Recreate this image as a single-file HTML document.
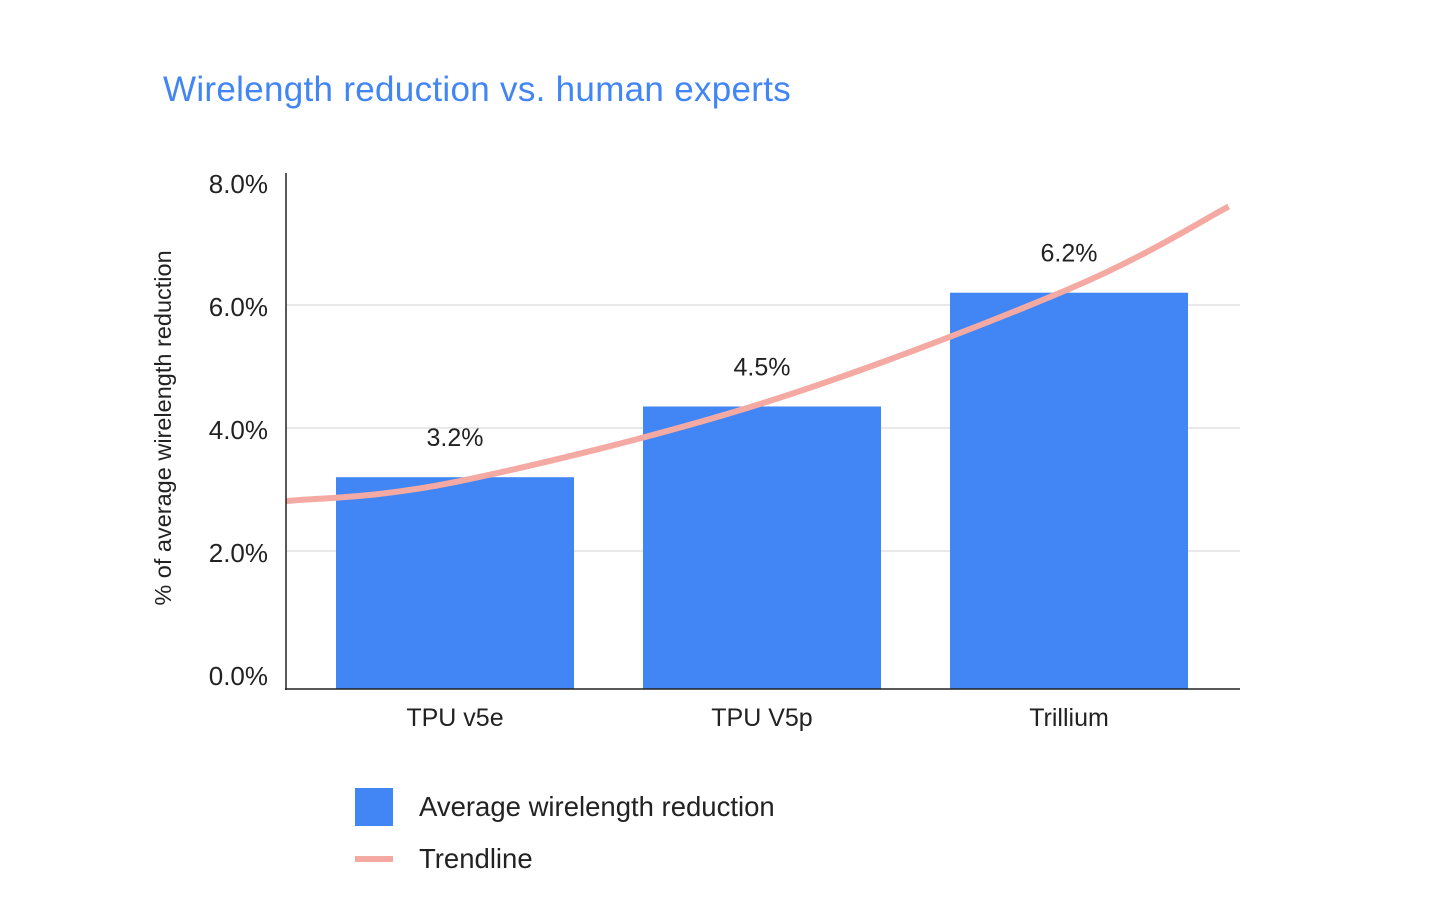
<!DOCTYPE html>
<html><head><meta charset="utf-8"><style>
html,body{margin:0;padding:0;background:#fff;}
svg{display:block;font-family:"Liberation Sans",sans-serif;}
</style></head><body>
<svg id="chart" width="1442" height="920" viewBox="0 0 1442 920">
<text x="163" y="101" font-size="35" letter-spacing="0.3" fill="#4285f4">Wirelength reduction vs. human experts</text>
<text transform="translate(171,428) rotate(-90)" text-anchor="middle" font-size="23.5" fill="#222">% of average wirelength reduction</text>
<g id="grid"></g><g id="bars"></g><g id="trend"></g><g id="labels"></g>
<line x1="286" y1="173" x2="286" y2="690" stroke="#222" stroke-width="1.5"/>
<line x1="285" y1="689" x2="1240" y2="689" stroke="#222" stroke-width="1.5"/>
<g>
<rect x="355" y="788" width="38" height="38" fill="#4285f4"/>
<text x="419" y="816" font-size="27.5" fill="#222">Average wirelength reduction</text>
<rect x="355" y="856" width="38" height="6" fill="#f4aaa2"/>
<text x="419" y="868" font-size="27.5" fill="#222">Trendline</text>
</g>
</svg>
<script>
const categories = ["TPU v5e", "TPU V5p", "Trillium"];
const barValues = [3.2, 4.35, 6.2];
const valueLabels = ["3.2%", "4.5%", "6.2%"];
const yTicks = [0, 2, 4, 6, 8];
const yTickLabels = ["0.0%", "2.0%", "4.0%", "6.0%", "8.0%"];
const trendIdx = [-0.55, 0, 1, 2, 2.52];
const trendValues = [2.81, 3.12, 4.4, 6.26, 7.6];

const NS = "http://www.w3.org/2000/svg";
const yScale = v => 674 - v * 61.5;
const xScale = i => 455 + i * 307;
function mk(tag, attrs, parent) {
  const e = document.createElementNS(NS, tag);
  for (const k in attrs) e.setAttribute(k, attrs[k]);
  parent.appendChild(e);
  return e;
}
const grid = document.getElementById("grid");
yTicks.forEach((t, i) => {
  if (t > 0 && t < 8) {
    const l = mk("line", {x1: 286, x2: 1240, y1: yScale(t), y2: yScale(t), stroke: "#dcdcdc", "stroke-width": 1.2}, grid);
    
    
  }
  const tx = mk("text", {x: 268, y: yScale(t) + 11, "text-anchor": "end", "font-size": 26, fill: "#222"}, grid);
  tx.textContent = yTickLabels[i];
  
  
});
const bars = document.getElementById("bars"), labels = document.getElementById("labels");
categories.forEach((c, i) => {
  const cx = xScale(i), top = yScale(barValues[i]);
  const r = mk("rect", {x: cx - 119, y: top, width: 238, height: 689 - top, fill: "#4285f4"}, bars);
  
  
  const v = mk("text", {x: cx, y: top - 31, "text-anchor": "middle", "font-size": 25, fill: "#222"}, labels);
  v.textContent = valueLabels[i];
  
  
  const t = mk("text", {x: cx, y: 726, "text-anchor": "middle", "font-size": 25, fill: "#222"}, labels);
  t.textContent = c;
  
  
});
const pts = trendIdx.map((t, i) => [xScale(t), yScale(trendValues[i])]);
let d = "M" + pts[0][0] + "," + pts[0][1];
for (let i = 0; i < pts.length - 1; i++) {
  const p0 = pts[Math.max(0, i - 1)], p1 = pts[i], p2 = pts[i + 1], p3 = pts[Math.min(pts.length - 1, i + 2)];
  const c1 = [p1[0] + (p2[0] - p0[0]) / 6, p1[1] + (p2[1] - p0[1]) / 6];
  const c2 = [p2[0] - (p3[0] - p1[0]) / 6, p2[1] - (p3[1] - p1[1]) / 6];
  d += " C" + c1 + " " + c2 + " " + p2;
}
const tr = mk("path", {d: d, fill: "none", stroke: "#f4aaa2", "stroke-width": 6}, document.getElementById("trend"));


</script>
</body></html>
